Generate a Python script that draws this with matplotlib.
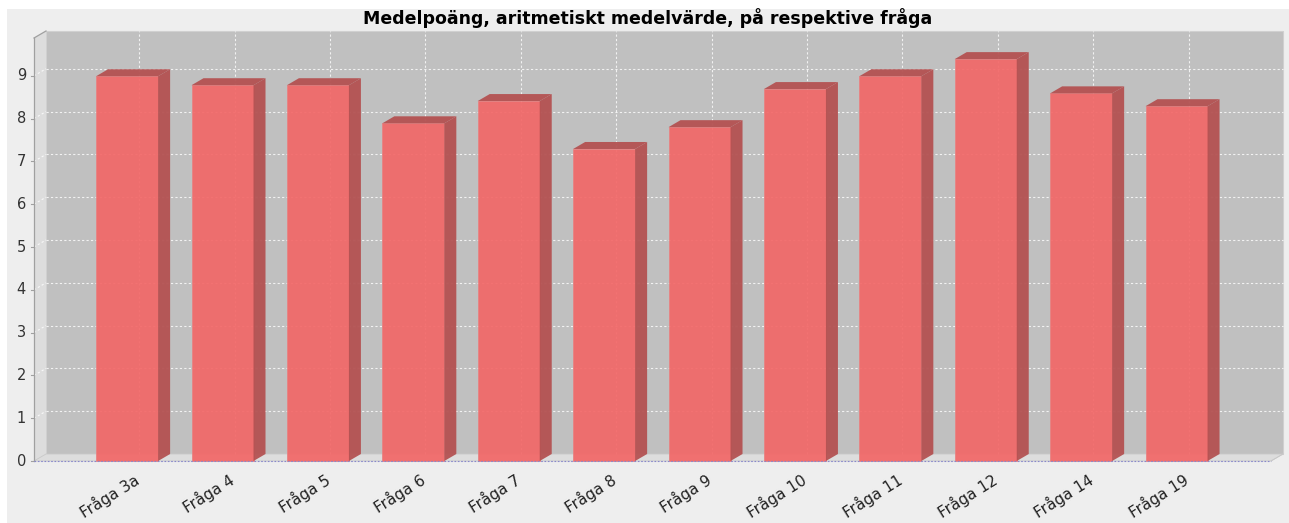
import matplotlib
matplotlib.use("Agg")
import matplotlib.pyplot as plt
from matplotlib.patches import Polygon, Rectangle

# data
categories = ["Fråga 3a", "Fråga 4", "Fråga 5", "Fråga 6", "Fråga 7", "Fråga 8",
              "Fråga 9", "Fråga 10", "Fråga 11", "Fråga 12", "Fråga 14", "Fråga 19"]
values = [8.99, 8.78, 8.78, 7.89, 8.41, 7.29, 7.80, 8.69, 8.99, 9.39, 8.59, 8.29]
yticks = [0, 1, 2, 3, 4, 5, 6, 7, 8, 9]
title = "Medelpoäng, aritmetiskt medelvärde, på respektive fråga"

W, H = 1289, 523
fig = plt.figure(figsize=(W / 100, H / 100), dpi=100)
fig.patch.set_facecolor("white")
fig.patches.append(Rectangle((7 / W, 0), 1, 1 - 9 / H, transform=fig.transFigure,
                             facecolor="#EEEEEE", edgecolor="none", zorder=-10))

# front face of the plot in pixels
px_left, px_right, px_bottom, px_top = 34, 1271, 461, 38
ax = fig.add_axes([px_left / W, 1 - px_bottom / H,
                   (px_right - px_left) / W, (px_bottom - px_top) / H])
x0, x1 = -0.976, 11.99
ymax = (px_bottom - px_top) / 42.8
ax.set_xlim(x0, x1)
ax.set_ylim(0, ymax)
ax.axis("off")

ppx = (px_right - px_left) / (x1 - x0)
ppy = (px_bottom - px_top) / ymax
dx = 12 / ppx
dy = 7 / ppy

wall = "#C0C0C0"
side_wall = "#DDDDDD"

# back wall, left wall, floor
ax.add_patch(Rectangle((x0 + dx, dy), x1 - x0, ymax, facecolor=wall, edgecolor="#D0D0D0",
                       lw=0.8, clip_on=False, zorder=1))
ax.add_patch(Polygon([(x0, 0), (x0 + dx, dy), (x0 + dx, ymax + dy), (x0, ymax)],
                     closed=True, facecolor=side_wall, edgecolor="none", clip_on=False, zorder=1))
ax.add_patch(Polygon([(x0, 0), (x0 + dx, dy), (x1 + dx, dy), (x1, 0)],
                     closed=True, facecolor=side_wall, edgecolor="#C8C8C8", lw=0.6,
                     clip_on=False, zorder=1))

# gridlines
for t in yticks[1:]:
    ax.plot([x0 + dx, x1 + dx], [t + dy, t + dy], color="white", lw=0.8,
            ls=(0, (2, 2)), clip_on=False, zorder=2, alpha=0.8)
    ax.plot([x0, x0 + dx], [t, t + dy], color="white", lw=0.8,
            ls=(0, (2, 2)), clip_on=False, zorder=2, alpha=0.8)
for i in range(len(categories)):
    ax.plot([i + dx, i + dx], [dy, ymax + dy], color="white", lw=0.8,
            ls=(0, (2, 2)), clip_on=False, zorder=2, alpha=0.8)

# bars
w = 62 / ppx
front = "#F26767"
dark = "#B45252"
for i, v in enumerate(values):
    l, r = i - w / 2, i + w / 2
    ax.add_patch(Rectangle((l, 0), w, v, facecolor=front, edgecolor="#E88080", lw=0.6,
                           alpha=0.92, clip_on=False, zorder=3))
    ax.add_patch(Polygon([(r, 0), (r + dx, dy), (r + dx, v + dy), (r, v)], closed=True,
                         facecolor=dark, edgecolor="none", alpha=0.95, clip_on=False, zorder=3))
    ax.add_patch(Polygon([(l, v), (l + dx, v + dy), (r + dx, v + dy), (r, v)], closed=True,
                         facecolor=dark, edgecolor="none", alpha=0.95, clip_on=False, zorder=3))

# axes lines
ax.plot([x0, x0], [0, ymax], color="#A0A0A0", lw=0.9, clip_on=False, zorder=4)
ax.plot([x0, x0 + dx], [ymax, ymax + dy], color="#A0A0A0", lw=0.9, clip_on=False, zorder=4)
ax.plot([x0, x1], [0, 0], color="#8888CC", lw=0.8, ls=(0, (1.5, 1.5)), clip_on=False, zorder=4)
ax.plot([x1, x1 + dx], [0, dy], color="#C8C8C8", lw=0.6, clip_on=False, zorder=4)

# tick labels
for t in yticks:
    ax.plot([x0 - 3 / ppx, x0], [t, t], color="#A0A0A0", lw=0.8, clip_on=False)
    ax.text(x0 - 8 / ppx, t, str(t), ha="right", va="center", fontsize=10.5, color="#333333")
for i, c in enumerate(categories):
    ax.text(i + 6 / ppx, -10 / ppy, c, ha="right", va="top", rotation=32,
            rotation_mode="anchor", fontsize=11, color="#222222")

fig.text(648 / W, 1 - 18 / H, title, ha="center", va="center", fontsize=12.5,
         fontweight="bold", color="black")

fig.savefig("out.png", dpi=100, facecolor=fig.get_facecolor())
